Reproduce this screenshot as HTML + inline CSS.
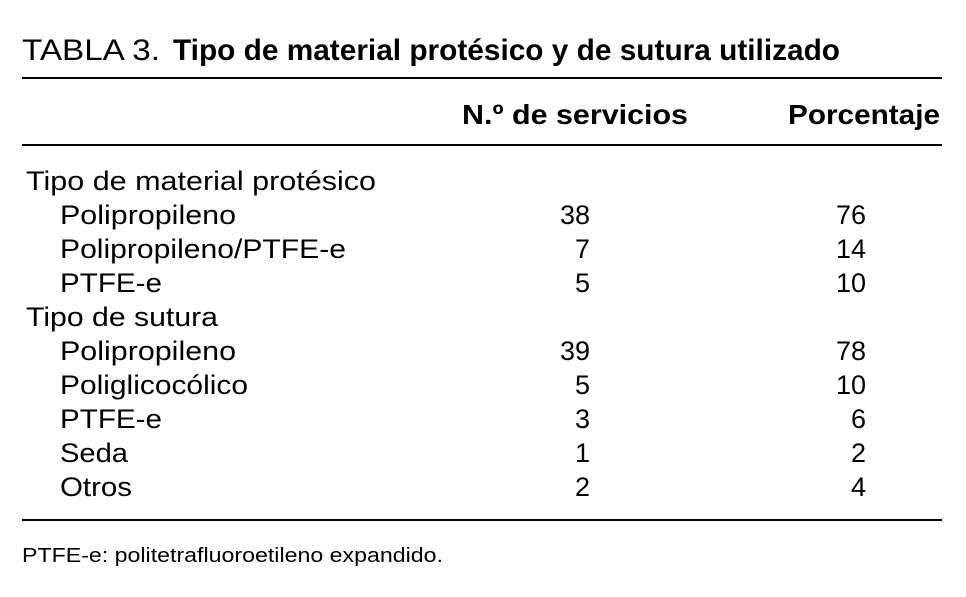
<!DOCTYPE html>
<html><head><meta charset="utf-8"><style>
html,body{margin:0;padding:0;background:#fff;}
svg{display:block;font-family:"Liberation Sans",Arial,sans-serif;}
</style></head><body>
<svg id="tbl" width="966" height="597" viewBox="0 0 966 597" xmlns="http://www.w3.org/2000/svg">
<text x="22" y="60" font-size="30" textLength="138" lengthAdjust="spacingAndGlyphs">TABLA 3.</text>
<text x="173" y="60" font-size="30" font-weight="bold" textLength="667" lengthAdjust="spacingAndGlyphs">Tipo de material protésico y de sutura utilizado</text>
<rect x="22" y="77" width="920" height="2" fill="#000"/>
<text x="462" y="124" font-size="28" font-weight="bold" textLength="226" lengthAdjust="spacingAndGlyphs">N.º de servicios</text>
<text x="788" y="124" font-size="28" font-weight="bold" textLength="152" lengthAdjust="spacingAndGlyphs">Porcentaje</text>
<rect x="22" y="144" width="920" height="2" fill="#000"/>
<g id="rows"></g>
<rect x="22" y="519" width="920" height="2" fill="#000"/>
<text x="22" y="562" font-size="20" textLength="421" lengthAdjust="spacingAndGlyphs">PTFE-e: politetrafluoroetileno expandido.</text>
</svg>
<script>
const labels = ["Tipo de material protésico","Polipropileno","Polipropileno/PTFE-e","PTFE-e","Tipo de sutura","Polipropileno","Poliglicocólico","PTFE-e","Seda","Otros"];
const servicios = ["", "38", "7", "5", "", "39", "5", "3", "1", "2"];
const porcentaje = ["", "76", "14", "10", "", "78", "10", "6", "2", "4"];
const labelWidths = [350,176,286,102,192,176,188,102,68,72];
const NS="http://www.w3.org/2000/svg";
const g=document.getElementById('rows');
function rowY(i){return 190+i*34.0;}
function mk(x,y,txt,anchor,w){
  const t=document.createElementNS(NS,'text');
  t.setAttribute('x',x);t.setAttribute('y',y);t.setAttribute('font-size','27');
  if(anchor)t.setAttribute('text-anchor',anchor);
  if(w){t.setAttribute('textLength',w);t.setAttribute('lengthAdjust','spacingAndGlyphs');}
  t.textContent=txt;g.appendChild(t);return t;
}
labels.forEach((lab,i)=>{
  const isGroup = servicios[i]==="";
  const t=mk(isGroup?26:60,rowY(i),lab,null,labelWidths[i]);
  
  
  if(!isGroup){
    const a=mk(590,rowY(i),servicios[i],'end');
    
    
    const b=mk(866,rowY(i),porcentaje[i],'end');
    
    
  }
});
</script>
</body></html>
